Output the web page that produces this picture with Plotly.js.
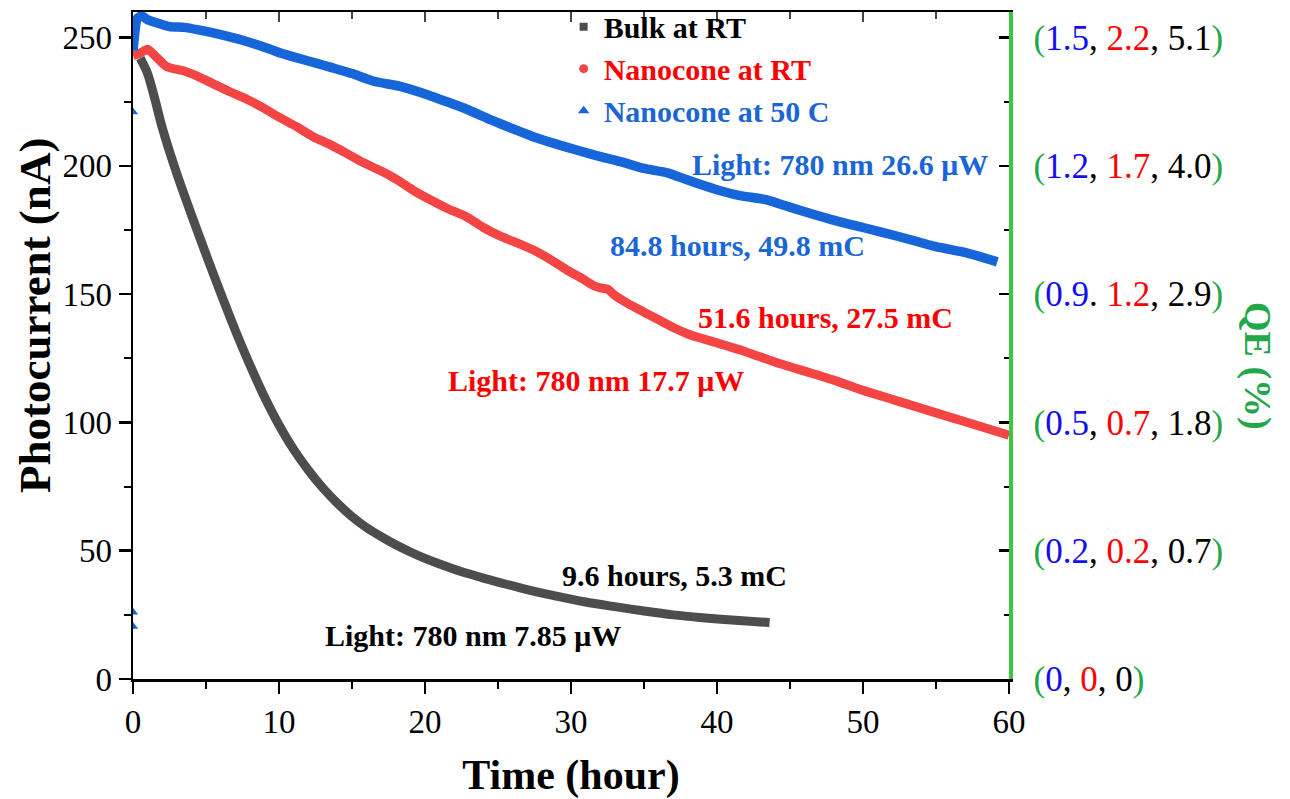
<!DOCTYPE html>
<html>
<head>
<meta charset="utf-8">
<script src="https://cdn.plot.ly/plotly-3.0.1.min.js"></script>
<style>html,body{margin:0;padding:0;background:#fff;}#chart{width:1290px;height:799px;}</style>
</head>
<body>
<div id="chart"></div>
<script>
// ---- data ----
const bulkX = [0.5,1.0,1.5,2.0,3.0,4.0,5.0,6.0,7.0,8.0,9.0,10.0,11.0,12.0,13.0,14.0,15.0,16.0,17.0,18.0,19.0,20.0,21.0,22.0,23.0,24.0,25.0,27.0,29.0,31.0,33.0,35.0,37.0,39.0,41.0,43.6];
const bulkY = [242,236,226,215,197,181,165.5,150.5,136,122.5,110,99,89.5,81.5,74.5,68.5,63.3,59,55.5,52.3,49.5,47,44.8,42.8,41,39.3,37.8,34.8,32.3,30,28.2,26.5,25,23.9,23,22];

const nanoRTX = [0.0,0.5,1.0,1.5,2.3,3.5,4.4,5.5,6.6,7.8,8.9,10.0,11.2,12.3,13.5,14.6,15.8,17.0,18.1,19.2,20.3,21.5,22.9,24.0,25.2,26.3,27.4,28.6,29.7,30.8,31.5,32.0,32.5,33.0,34.0,35.0,36.0,37.0,38.0,38.8,40.0,42.0,44.0,46.0,48.0,50.0,52.0,54.0,56.0,58.0,60.0];
const nanoRTY = [243,244,245.5,243,238.7,237,235,232,229,226,222.7,219,215.3,211.5,208.3,205,201.2,198,194.6,190.5,187,183.5,180,176,172.5,170,167.3,163.5,159.5,156,153.5,152.5,152,149.5,146,143,140,137,134.5,133,131,127.5,123.5,120,116.5,112.5,109,105.5,102,98.5,95];

const nano50X = [0.0,0.3,0.6,1.0,1.5,2.5,3.5,4.5,6.0,7.5,9.4,10.1,11.3,12.6,13.5,15.0,16.5,18.3,20.3,21.5,22.9,24.5,26.0,27.4,29.0,30.5,32.0,33.5,35.0,36.6,38.0,40.0,41.5,43.4,45.5,47.9,50.0,52.5,55.0,57.1,59.2];
const nano50Y = [245,257.5,258.5,257,256,254.3,254,253,251.2,249,245.5,244,242,240,238.5,236,233,231,227.5,225,222,218,214.5,211.4,208.5,206,203.6,201.5,199,197.3,194.5,190.7,188.5,186.8,183,179,176,172.4,168.5,166.1,162.6];
const nano50OutX = [0, 0, 0];
const nano50OutY = [221, 26, 20.5];

const seriesNames = ["Bulk at RT", "Nanocone at RT", "Nanocone at 50 C"];
const xTicks = [0,10,20,30,40,50,60];
const yTicks = [0,50,100,150,200,250];
const qeBlue = ["0","0.2","0.5","0.9","1.2","1.5"];
const qeRed  = ["0","0.2","0.7","1.2","1.7","2.2"];
const qeBlack= ["0","0.7","1.8","2.9","4.0","5.1"];
const qeSep1 = [",",",",",",".",",",","];

// ---- styling ----
const SERIF = "Liberation Serif, Times New Roman, serif";
const C_BULK = "#4d4d4d", C_RT = "#f44545", C_50 = "#1766d9";
const T_BLUE = "#1a66d6", T_RED = "#ff0000", T_GREEN = "#22a84a", T_QE_BLUE = "#1010ee";

const qeText = yTicks.map((v, i) =>
  `<span style="color:${T_GREEN}">(</span><span style="color:${T_QE_BLUE}">${qeBlue[i]}</span>${qeSep1[i]} ` +
  `<span style="color:${T_RED}">${qeRed[i]}</span>, ${qeBlack[i]}<span style="color:${T_GREEN}">)</span>`);

const traces = [
  {x: bulkX, y: bulkY, mode: "lines", line: {color: C_BULK, width: 9, shape: "spline", smoothing: 0.8}, showlegend: false, hoverinfo: "skip"},
  {x: nanoRTX, y: nanoRTY, mode: "lines", line: {color: C_RT, width: 9, shape: "spline", smoothing: 0.5}, showlegend: false, hoverinfo: "skip"},
  {x: nano50X, y: nano50Y, mode: "lines", line: {color: C_50, width: 9.5, shape: "spline", smoothing: 0.5}, showlegend: false, hoverinfo: "skip"},
  {x: nano50OutX, y: nano50OutY, mode: "markers", marker: {symbol: "triangle-up", size: 9, color: C_50}, showlegend: false, hoverinfo: "skip"},
  // legend entries
  {x: [null], y: [null], xaxis: "x2", yaxis: "y2", mode: "markers", name: `<span style="color:#000">${seriesNames[0]}</span>`,
   marker: {symbol: "square", size: 8, color: C_BULK}},
  {x: [null], y: [null], xaxis: "x2", yaxis: "y2", mode: "markers", name: `<span style="color:${T_RED}">${seriesNames[1]}</span>`,
   marker: {symbol: "circle", size: 9, color: C_RT}},
  {x: [null], y: [null], xaxis: "x2", yaxis: "y2", mode: "markers", name: `<span style="color:${T_BLUE}">${seriesNames[2]}</span>`,
   marker: {symbol: "triangle-up", size: 10, color: C_50}}
];

const annFont = (c) => ({family: SERIF, size: 30, color: c, weight: "bold"});
const layout = {
  width: 1290, height: 799,
  margin: {l: 133, r: 281, t: 12, b: 120, autoexpand: false},
  paper_bgcolor: "#fff", plot_bgcolor: "#fff",
  font: {family: SERIF, size: 30, color: "#000"},
  showlegend: true,
  legend: {x: 0.4916, y: 1.017, xanchor: "left", yanchor: "top", bgcolor: "rgba(255,255,255,0)",
           font: {family: SERIF, size: 30, weight: "bold"}, tracegroupgap: 0, itemwidth: 30},
  xaxis: {range: [0, 60], tickvals: xTicks, ticks: "outside", ticklen: 12, tickwidth: 2.5, tickcolor: "#000",
          minor: {dtick: 5, ticks: "outside", ticklen: 7, tickwidth: 2, tickcolor: "#000"},
          showline: true, linecolor: "#000", linewidth: 2.5, showgrid: false, zeroline: false,
          tickfont: {family: SERIF, size: 33},
          title: {text: "Time (hour)", font: {family: SERIF, size: 42, weight: "bold"}, standoff: 30}},
  yaxis: {range: [0, 260], tickvals: yTicks, ticks: "outside", ticklen: 12, tickwidth: 2.5, tickcolor: "#000",
          minor: {dtick: 25, ticks: "outside", ticklen: 7, tickwidth: 2, tickcolor: "#000"},
          showline: true, linecolor: "#000", linewidth: 2.5, showgrid: false, zeroline: false,
          tickfont: {family: SERIF, size: 33}, title: {text: ""}},
  xaxis2: {overlaying: "x", side: "top", range: [0, 60], tickvals: xTicks, ticks: "inside", ticklen: 10, tickwidth: 2.5,
           minor: {dtick: 5, ticks: "inside", ticklen: 7, tickwidth: 2}, showticklabels: false,
           showline: true, linecolor: "#000", linewidth: 2.5, showgrid: false, zeroline: false},
  yaxis2: {overlaying: "y", side: "right", anchor: "x", range: [0, 260], tickvals: yTicks, ticktext: qeText,
           ticks: "inside", ticklen: 10, tickwidth: 2.5, tickcolor: "#000",
           minor: {dtick: 25, ticks: "inside", ticklen: 5, tickwidth: 2, tickcolor: "#000"},
           showline: true, linecolor: "#3cc83c", linewidth: 3.5, showgrid: false, zeroline: false,
           ticklabelstandoff: 14, tickfont: {family: SERIF, size: 35, color: "#000"}},
  annotations: [
    {xref: "paper", yref: "paper", x: (35 - 133) / 876, y: (679 - 316) / 667, xanchor: "center", yanchor: "middle",
     text: "Photocurrent (nA)", textangle: -90, showarrow: false,
     font: {family: SERIF, size: 45, weight: "bold", color: "#000"}},
    {xref: "paper", yref: "paper", x: (1258 - 133) / 876, y: (679 - 366) / 667, xanchor: "center", yanchor: "middle",
     text: "QE (%)", textangle: 90, showarrow: false,
     font: {family: SERIF, size: 38, weight: "bold", color: T_GREEN}},
    {x: 48.4, y: 200.5, text: "Light: 780 nm 26.6 μW", showarrow: false, font: annFont(T_BLUE)},
    {x: 41.4, y: 169, text: "84.8 hours, 49.8 mC", showarrow: false, font: annFont(T_BLUE)},
    {x: 47.4, y: 140.8, text: "51.6 hours, 27.5 mC", showarrow: false, font: annFont(T_RED)},
    {x: 31.7, y: 116.2, text: "Light: 780 nm 17.7 μW", showarrow: false, font: annFont(T_RED)},
    {x: 37.1, y: 40.2, text: "9.6 hours, 5.3 mC", showarrow: false, font: annFont("#000")},
    {x: 23.3, y: 16.8, text: "Light: 780 nm 7.85 μW", showarrow: false, font: annFont("#000")}
  ]
};

Plotly.newPlot("chart", traces, layout, {staticPlot: true, displayModeBar: false});
</script>
</body>
</html>
